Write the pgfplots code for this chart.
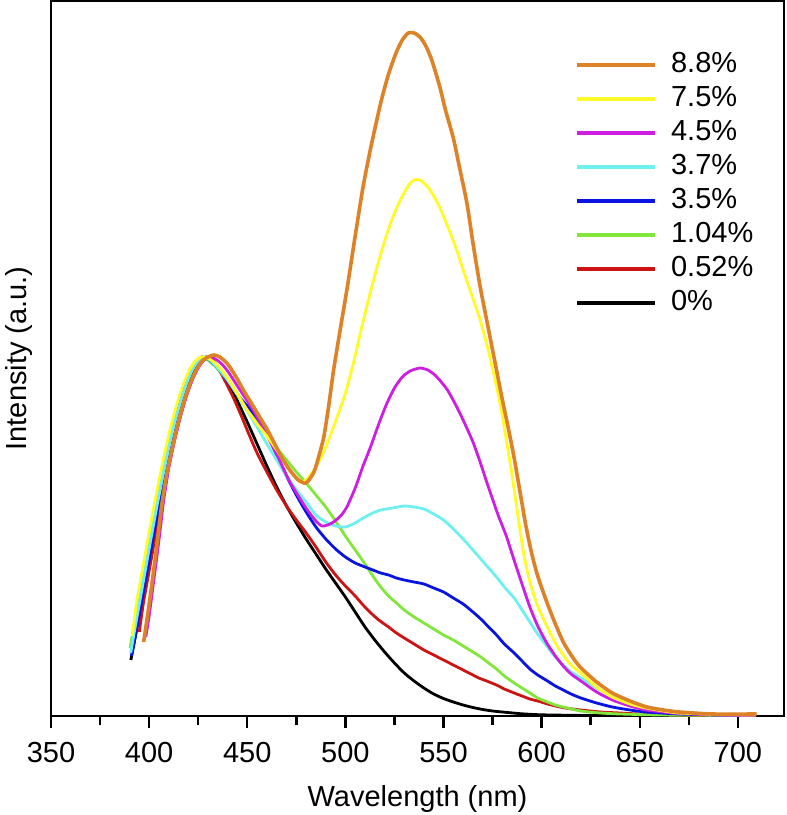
\documentclass[border=0pt]{standalone}
\usepackage{fontspec}
\setmainfont{Liberation Sans}
\usepackage{pgfplots}
\pgfplotsset{compat=1.18}
\definecolor{cOrange}{RGB}{222,130,40}
\definecolor{cYellow}{RGB}{255,250,40}
\definecolor{cMagenta}{RGB}{205,30,225}
\definecolor{cCyan}{RGB}{110,240,240}
\definecolor{cBlue}{RGB}{10,20,225}
\definecolor{cGreen}{RGB}{130,230,60}
\definecolor{cRed}{RGB}{205,20,20}
\begin{document}
\begin{tikzpicture}[font=\fontsize{14.5pt}{17pt}\selectfont]
\begin{axis}[
  scale only axis, width=366.5pt, height=357.5pt,
  xmin=350, xmax=723.5, ymin=0, ymax=715,
  xtick={350,400,...,700}, minor x tick num=1,
  ytick=\empty,
  tick pos=left, tick align=outside,
  major tick length=6pt, minor tick length=4.5pt,
  every tick/.style={black, line width=1.2pt},
  axis line style={line width=1.2pt},
  /pgf/number format/assume math mode=true,
  xticklabel style={anchor=center, yshift=-12.5pt},
  xlabel={Wavelength (nm)},
  ylabel={Intensity (a.u.)},
  xlabel style={at={(axis description cs:0.5,0)}, anchor=center, yshift=-41.5pt},
  ylabel style={at={(axis description cs:-0.0437,0.5)}, anchor=center},
  reverse legend,
  legend style={at={(rel axis cs:0.715,0.934)}, anchor=north west, draw=none, fill=none,
    inner sep=0pt, outer sep=0pt, row sep=0pt, column sep=7pt,
    nodes={inner sep=0pt, text height=12pt, text depth=5pt}},
  legend cell align=left,
  legend image code/.code={\draw[#1, line width=2pt] (0pt,0pt) -- (39pt,0pt);},
  every axis plot/.append style={line join=round, smooth, tension=0.4},
]
% 0%
\addplot[black, line width=1.4pt] coordinates {
(390.7,56) (393,80) (396,112) (399,145) (402,178) (405,210) (408,240) (411,268) (414,293) (417,314) (420,332) (423,346) (426,355) (429,359) (432,356) (435,349) (438,341) (441,331) (445,315) (450,294) (455,272) (460,250) (465,229) (470,210) (475,193) (480,177) (485,162) (490,147) (495,133) (500,119) (505,104) (510,89) (515,76) (520,64) (525,53) (530,43) (535,35) (540,28) (545,22) (550,17.5) (555,14) (560,11) (565,8.5) (570,6.5) (575,5) (580,4) (590,2.2) (600,1.2) (620,0.6) (650,0.3) (709,0.2)
};
\addlegendentry{0\%}
% 0.52%
\addplot[cRed, line width=1.4pt] coordinates {
(395,84) (397,112) (400,145) (403,178) (406,210) (409,240) (412,268) (415,293) (418,314) (421,332) (424,346) (427,355) (430,358) (433,354) (436,345) (440,330) (443,318) (447,300) (451,281) (455,263) (460,244) (465,226) (470,210) (475,196) (480,183) (485,169) (490,154) (495,141) (500,130) (505,120) (509,111) (513,103) (517,96) (522,89) (526,83) (530,78) (535,72) (540,66) (543,63) (548,58) (552,54) (556,50) (560,46) (564,42) (568,38) (572,35) (577,31) (581,27) (586,23) (590,20) (594,17) (598,15) (603,12) (607,10) (612,8) (620,6) (630,4) (640,3) (650,2) (670,1) (690,0.6) (709,0.5)
};
\addlegendentry{0.52\%}
% 1.04%
\addplot[cGreen, line width=1.4pt] coordinates {
(390.3,68) (394,110) (397,145) (400,178) (403,210) (406,240) (409,268) (412,293) (415,314) (418,332) (421,346) (424,355) (427,359) (430,356) (434,349) (438,340) (441,333) (445,322) (450,307) (455,294) (460,281) (465,268) (470,256) (475,244) (480,233) (485,221) (490,209) (495,195) (500,180) (505,166) (510,152) (514,140) (518,129) (522,120) (526,113) (530,106) (535,99) (540,93) (545,87) (550,81) (555,76) (560,70) (565,64) (569,59) (573,53) (577,47) (581,40) (586,33) (590,28) (594,23) (598,18) (603,14) (607,11) (611,9) (620,5) (630,3) (640,2) (660,1) (690,0.6) (709,0.5)
};
\addlegendentry{1.04\%}
% 3.5%
\addplot[cBlue, line width=1.4pt] coordinates {
(391,60) (393,80) (396,112) (399,145) (402,178) (405,210) (408,240) (410.5,265) (413,290) (415.5,311) (418,330) (421,345) (424,355) (427,359) (430,357) (433,352) (437,343) (441,332) (445,321) (450,310) (455,298) (460,282) (465,261) (470,240) (475,221) (480,204) (485,189) (490,177) (495,167) (500,159) (505,153) (510,149) (514,146) (518,143) (522,141) (526,138) (530,136) (535,134) (540,132) (545,128) (550,124) (555,118) (560,112) (565,104) (569,97) (573,89) (577,81) (581,72) (586,63) (590,55) (594,47) (598,41) (603,35) (607,30) (611,26) (615,22) (620,18) (628,13) (636,9) (645,6) (653,4) (670,2) (690,1) (709,0.5)
};
\addlegendentry{3.5\%}
% 3.7%
\addplot[cCyan, line width=1.4pt] coordinates {
(390.6,63) (392,79) (395,112) (398,145) (401,178) (404,210) (407,240) (410,268) (413,293) (416,314) (419,332) (422,346) (425,355) (428,359) (431,356) (434,350) (438,341) (441,333) (445,321) (450,305) (455,289) (460,272) (465,256) (470,240) (475,226) (480,214) (485,201) (490,194) (495,190) (500,189) (505,193) (509,198) (514,203) (518,206) (524,208) (530,210) (535,209) (540,207) (545,202) (550,196) (555,187) (560,177) (565,166) (569,157) (573,148) (577,139) (581,129) (586,118) (590,106) (594,94) (598,82) (603,69) (607,59) (611,51) (615,44) (620,38) (628,28) (636,19) (645,13) (653,9) (662,6) (670,4) (690,1.5) (709,0.5)
};
\addlegendentry{3.7\%}
% 4.5%
\addplot[cMagenta, line width=1.4pt] coordinates {
(398.3,79) (400,100) (402,130) (404,160) (406,192) (407.3,214) (410,248) (413,276) (416,300) (419,320) (422,336) (425,348) (428,356) (431.5,359) (434.5,356) (437,352) (440,345) (444,333) (448,321) (452,309) (455,299) (460,281) (465,262) (468.5,247) (472,233) (477,217) (481,205) (485,195) (488,190) (491,191) (494,194) (498,201) (501,210) (505,228) (509,250) (513,270) (517,292) (521,312) (525,328) (529,339) (533,345) (538,348) (542,346) (545,342) (548,336) (552,326) (556,312) (560,296) (565,274) (569,252) (572,234) (575.5,214) (578,200) (582,180) (585.6,158) (590,132) (594,109) (598,90) (602.6,73) (607,60) (611,50) (615,42) (620,35) (628,24) (636,16) (645,10) (653,6) (662,4) (670,2.5) (690,1) (709,0.5)
};
\addlegendentry{4.5\%}
% 7.5%
\addplot[cYellow, line width=1.4pt] coordinates {
(391.5,80) (393.5,112) (396.5,145) (399.5,178) (402.5,210) (405.5,240) (408.5,268) (411.5,293) (414.5,314) (417.5,332) (420.5,346) (423.5,355) (426.5,359) (429.5,358) (433,354) (437,346) (441,335) (445,322) (450,306) (455,292) (460,280) (465,266) (470,251) (474,240) (477,234) (480,236) (484,246) (488,260) (492,279) (496,300) (500,323) (504,352) (508,386) (512,418) (516,448) (520,475) (524,498) (528,516) (532,530) (535,536) (538,536) (542,529) (545,520) (548,509) (552,490) (556,470) (560,446) (564,423) (568.7,396) (573,364) (577,330) (580,300) (582.5,270) (585,240) (587.5,206) (590.6,165) (594,134) (598,110) (602.6,90) (607,73) (611,61) (615,51) (620,43) (628,29) (636,19) (645,12) (653,8) (662,5) (670,3) (690,1.5) (709,1)
};
\addlegendentry{7.5\%}
% 8.8%
\addplot[cOrange, line width=1.8pt] coordinates {
(397.2,74) (399,98) (401,126) (403,156) (405,188) (406.5,212) (409,242) (412,270) (415,295) (418,316) (421,333) (424,346) (427,355) (430,359) (433,361) (436,359) (440,352) (444,340) (448,326) (452,313) (456,300) (460,287) (464,272) (468,257) (472,245) (476,236) (480,233) (484,244) (486.5,260) (489,279) (491.5,310) (494,346) (497.5,388) (501,429) (505,480) (509,529) (513,569) (518,613) (522,642) (526,664) (529,676) (532,683) (535,683) (538,679) (541,670) (544,656) (548,630) (551,606) (555,578) (558,550) (562,512) (565,473) (568.7,429) (573,386) (577,346) (580,316) (583,288) (586,258) (589,224) (592,190) (595,162) (598,140) (602.8,113) (607,92) (611,74) (615,61) (619.6,49) (628,34) (636,23) (645,15) (653.6,9) (662,6) (670,4) (687,2) (709.6,2)
};
\addlegendentry{8.8\%}
\end{axis}
\pgfresetboundingbox
\path ([xshift=-25.5pt,yshift=-49.5pt]current axis.south west) rectangle ([xshift=1.5pt,yshift=0.5pt]current axis.north east);
\end{tikzpicture}
\end{document}
